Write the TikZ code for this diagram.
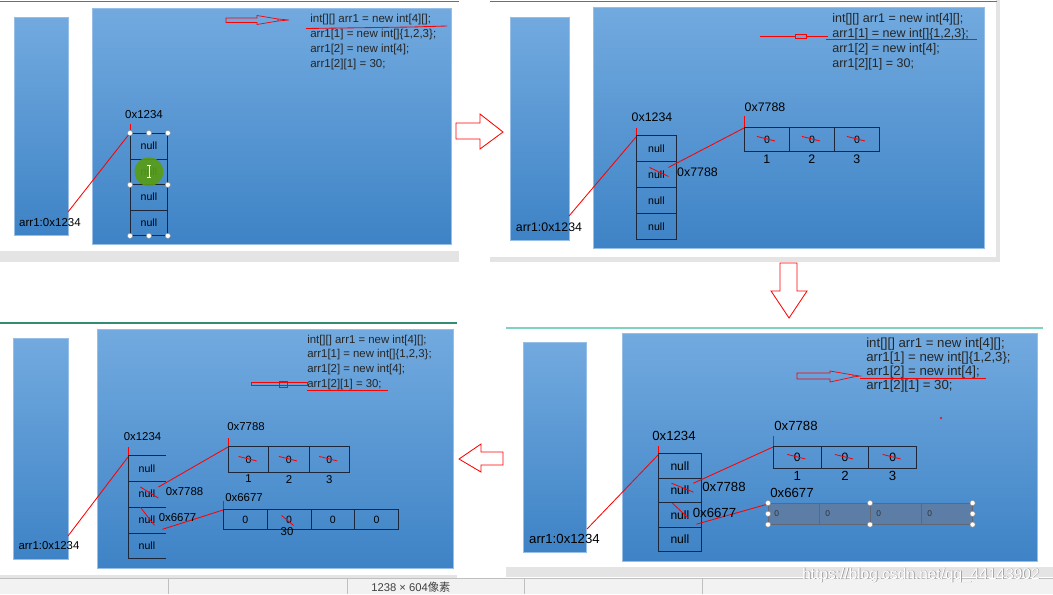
\documentclass[tikz,border=0pt]{standalone}
\usepackage{fontspec}
\setmainfont{Liberation Sans}
\newfontfamily\cjkfont{Noto Sans CJK SC}
\usetikzlibrary{positioning}

\definecolor{heaptop}{RGB}{114,170,223}
\definecolor{heapbot}{RGB}{62,131,198}
\definecolor{heapedge}{RGB}{150,190,230}
\definecolor{cellline}{RGB}{30,38,58}
\definecolor{tabgreen}{RGB}{52,140,112}
\definecolor{tabcyan}{RGB}{126,210,192}
\definecolor{selfill}{RGB}{92,126,166}
\definecolor{bargray}{RGB}{228,228,228}
\definecolor{hlgreen}{RGB}{88,156,18}

% the four lines of the snippet: name, x, first baseline, font size, line step
\newcommand\codelines[5]{%
  \node[code=#4] (#1a) at (#2,#3) {int[][] arr1 = new int[4][];};
  \node[code=#4] (#1b) at (#2,#3+#5) {arr1[1] = new int[]\{1,2,3\};};
  \node[code=#4] (#1c) at (#2,#3+2*#5) {arr1[2] = new int[4];};
  \node[code=#4] (#1d) at (#2,#3+3*#5) {arr1[2][1] = 30;};}

\begin{document}
\begin{tikzpicture}[x=0.25mm,y=-0.25mm,
  heap/.style={top color=heaptop,bottom color=heapbot,draw=heapedge,line width=0.4pt},
  lbl/.style={inner sep=0pt,font=\fontsize{#1}{#1}\selectfont},
  lbl/.default=8.2,
  code/.style={anchor=base west,inner sep=0pt,text=black!85,font=\fontsize{#1}{#1}\selectfont},
  cell/.style={draw=cellline,line width=0.6pt,inner sep=0pt,anchor=north west,font=\fontsize{7.5}{7.5}\selectfont},
  ptr/.style={red,line width=0.6pt},
  handle/.style={circle,draw=black!45,fill=white,inner sep=0pt,minimum size=1.3mm,line width=0.3pt}]
\useasboundingbox (0,0) rectangle (1053,594);
\clip (0,0) rectangle (1053,594);
\fill[white] (0,0) rectangle (1053,594);

% window frames and status bar
\fill[bargray] (0,251) rectangle (459,262);
\draw[tabgreen,line width=1.2pt] (0,1.5) -- (459,1.5);
\fill[bargray] (490,257) rectangle (1000,262);
\fill[bargray] (996,0) rectangle (1000,262);
\draw[tabgreen,line width=1.2pt] (490,1.5) -- (997,1.5);
\draw[tabgreen,line width=1.2pt] (0,323) -- (457,323);
\fill[bargray] (0,575) rectangle (457,578);
\draw[tabcyan,line width=0.8pt] (506,328) -- (1043,328);
\fill[bargray] (506,567) rectangle (1053,577);
\fill[black!5] (0,578) rectangle (1053,594);
\draw[black!25] (0,578) -- (1053,578);
\foreach \x in {168,347,524,702} \draw[black!25] (\x,579) -- (\x,594);
\node[lbl=8,anchor=west,text=black!75] (size) at (371,587) {1238 × 604{\cjkfont 像素}};

% stack and heap areas
\foreach \xa/\ya/\xb/\yb in {14/17/68/235, 92/8/451/244, 510/17/569/240, 593/7/984/248,
    13/338/68/559, 97/329/453/568, 523/342/586/552, 622/333/1037/561}
  \draw[heap] (\xa,\ya) rectangle (\xb,\yb);

% ---- step 1: int[][] arr1 = new int[4][];
\codelines{p1}{310}{22}{8.2}{15}
\draw[ptr,line width=0.5pt] (226,18) -- (257,18) -- (257,15.5) -- (278,19) -- (278,21) -- (257,24.5) -- (257,22.5) -- (226,22.5) -- cycle;
\draw[ptr,line width=0.5pt] (278,19) -- (289,20) -- (278,21);
\draw[ptr] (306,28.5) -- (412,27) -- (447,26);
\node[lbl] (p1addr) at (144,115) {0x1234};
\foreach \i in {1,...,4}
  \node[cell,minimum width=9.25mm,minimum height=6.375mm] (p1c\i) at (130,{133+25.5*(\i-1)}) {null};
\node[lbl] (p1var) at (50,223) {arr1:0x1234};
\coordinate (p1ref) at (68,212);
\draw[ptr] (p1ref) -- (p1c1.north west);
\draw[ptr] ([yshift=2.2mm]p1c1.north west) -- ([yshift=0.8mm]p1c1.north west);
\fill[hlgreen,opacity=0.9] (p1c2.center) circle[radius=3.6mm];
\draw[white,line width=0.6pt] ([yshift=1.5mm]p1c2.center) -- ([yshift=-1.5mm]p1c2.center)
  ([shift={(-0.5mm,1.5mm)}]p1c2.center) -- ([shift={(0.5mm,1.5mm)}]p1c2.center)
  ([shift={(-0.5mm,-1.5mm)}]p1c2.center) -- ([shift={(0.5mm,-1.5mm)}]p1c2.center);
\foreach \a [count=\k] in {p1c1.north west,p1c1.north,p1c1.north east,p1c2.south west,
    p1c2.south east,p1c4.south west,p1c4.south,p1c4.south east}
  \node[handle] (p1h\k) at (\a) {};

% ---- step 2: arr1[1] = new int[]{1,2,3};
\codelines{p2}{832}{22.5}{8.9}{15}
\draw[ptr] (760,36) -- (795,36) (806,36) -- (828,36);
\draw[ptr,line width=0.5pt] (795,34) rectangle (806,38);
\draw[ptr] (826,39) -- (977,39);
\node[lbl=8.8] (p2addr) at (652,117) {0x1234};
\foreach \i in {1,...,4}
  \node[cell,minimum width=10mm,minimum height=6.5mm] (p2c\i) at (636,{135+26*(\i-1)}) {null};
\node[lbl=8.8] (p2var) at (549,227) {arr1:0x1234};
\coordinate (p2ref) at (569,216);
\draw[ptr] (p2ref) -- ([yshift=-0.5mm]p2c1.north west);
\draw[ptr] ([yshift=1.75mm]p2c1.north west) -- (p2c1.north west);
\node[lbl=8.8] (p2addrA) at (765,107) {0x7788};
\foreach \i in {1,2,3} {
  \node[cell,minimum width=11.25mm,minimum height=6mm] (p2r\i) at ({744+45*(\i-1)},127) {0};
  \node[lbl=8.8,below=0.6mm of p2r\i] (p2n\i) {\i};
  \draw[ptr] ([shift={(-10,-3)}]p2r\i.center) -- ([shift={(8,1.5)}]p2r\i.center);
}
\draw[ptr] ([yshift=2.75mm]p2r1.north west) -- (p2r1.north west);
\draw[ptr] ([shift={(12,-7)}]p2c2.center) -- ([yshift=-0.25mm]p2r1.north west);
\draw[ptr] ([shift={(-7,-7)}]p2c2.center) -- ([shift={(12,2)}]p2c2.center);
\node[lbl=8.8] (p2ptrA) at (697.5,172) {0x7788};

% ---- step 3: arr1[2] = new int[4];
\codelines{p4}{866}{347.5}{9.4}{14}
\draw[ptr,line width=0.5pt] (797,373) -- (830,373) -- (830,371) -- (853,375) -- (853,377) -- (830,382) -- (830,379) -- (797,379) -- cycle;
\draw[ptr,line width=0.5pt] (853,375) -- (860,376) -- (853,377);
\draw[ptr] (860,378) -- (986,378);
\fill[red] (941,418) circle[radius=0.3mm];
\node[lbl=9.4] (p4addr) at (674,436) {0x1234};
\foreach \i in {1,...,4}
  \node[cell,minimum width=10.75mm,minimum height=6.125mm,font=\fontsize{8.6}{8.6}\selectfont] (p4c\i) at (658,{453+24.5*(\i-1)}) {null};
\node[lbl=9.4] (p4var) at (564.5,539) {arr1:0x1234};
\coordinate (p4ref) at (587,529);
\draw[ptr] (p4ref) -- ([yshift=-0.5mm]p4c1.north west);
\draw[ptr] ([yshift=1.75mm]p4c1.north west) -- (p4c1.north west);
\node[lbl=9.4] (p4addrA) at (796,426) {0x7788};
\foreach \i in {1,2,3} {
  \node[cell,minimum width=11.92mm,minimum height=5.5mm,font=\fontsize{8.6}{8.6}\selectfont] (p4r\i) at ({773+47.67*(\i-1)},446) {0};
  \node[lbl=9.4,below=0.5mm of p4r\i] (p4n\i) {\i};
  \draw[ptr] ([shift={(-10,-3)}]p4r\i.center) -- ([shift={(8,1.5)}]p4r\i.center);
}
\draw[ptr] ([yshift=2.5mm]p4r1.north west) -- (p4r1.north west);
\draw[ptr] ([shift={(13.5,-7)}]p4c2.center) -- ([yshift=-0.25mm]p4r1.north west);
\draw[ptr] ([shift={(-8.5,-7)}]p4c2.center) -- ([shift={(13.5,2)}]p4c2.center);
\node[lbl=9.4] (p4ptrA) at (724,487) {0x7788};
\node[lbl=9.4] (p4addrB) at (792,493) {0x6677};
\foreach \i in {1,...,4} {
  \node[cell,fill=selfill,draw=cellline!70,line width=0.4pt,minimum width=12.75mm,minimum height=5.25mm] (p4s\i) at ({768+51*(\i-1)},503) {};
  \node[lbl=6,right=1.5mm of p4s\i.west,text=black!80] (p4z\i) {0};
}
\draw[ptr] ([shift={(16.5,9.5)}]p4c3.center) -- ([yshift=-0.25mm]p4s1.north west);
\draw[ptr] ([shift={(-7.5,-11.5)}]p4c3.center) -- ([shift={(8.5,3.5)}]p4c3.center);
\node[lbl=9.4] (p4ptrB) at (714.5,513) {0x6677};
\foreach \a [count=\k] in {p4s1.north west,p4s1.west,p4s1.south west,p4s3.north west,
    p4s3.south west,p4s4.north east,p4s4.east,p4s4.south east}
  \node[handle] (p4h\k) at (\a) {};

% ---- step 4: arr1[2][1] = 30;
\codelines{p3}{307}{343}{8.1}{14.7}
\draw[ptr,line width=0.4pt] (251,382.5) rectangle (307,385.5);
\draw[ptr,line width=0.4pt] (279,381) rectangle (287,387);
\draw[ptr] (307,390) -- (388,390);
\node[lbl=8.1] (p3addr) at (142.5,437) {0x1234};
\foreach \i in {1,...,4}
  \node[cell,draw=none,minimum width=9.25mm,minimum height=6.44mm] (p3c\i) at (128,{455+25.75*(\i-1)}) {null};
\draw[cellline,line width=0.6pt] (p3c1.north east) -- (p3c1.north west) -- (p3c4.south west) -- (p3c4.south east);
\foreach \i in {1,2,3} \draw[cellline,line width=0.6pt] (p3c\i.south west) -- (p3c\i.south east);
\node[lbl=8.1] (p3var) at (49,546) {arr1:0x1234};
\coordinate (p3ref) at (68,536);
\draw[ptr] (p3ref) -- ([yshift=-0.5mm]p3c1.north west);
\draw[ptr] ([yshift=2mm]p3c1.north west) -- (p3c1.north west);
\node[lbl=8.1] (p3addrA) at (246,427) {0x7788};
\foreach \i in {1,2,3} {
  \node[cell,minimum width=10.08mm,minimum height=6.5mm] (p3r\i) at ({228+40.33*(\i-1)},446) {0};
  \node[lbl=8.1,below=0.5mm of p3r\i] (p3n\i) {\i};
  \draw[ptr] ([shift={(-10,-3)}]p3r\i.center) -- ([shift={(8,1.5)}]p3r\i.center);
}
\draw[ptr] ([yshift=2mm]p3r1.north west) -- (p3r1.north west);
\draw[ptr] ([shift={(11.5,-7)}]p3c2.center) -- ([yshift=-0.25mm]p3r1.north west);
\draw[ptr] ([shift={(-6.5,-7)}]p3c2.center) -- ([shift={(11.5,4)}]p3c2.center);
\node[lbl=8.1] (p3ptrA) at (184.5,492) {0x7788};
\node[lbl=8.1] (p3addrB) at (244,498) {0x6677};
\foreach \i in {1,...,4}
  \node[cell,minimum width=10.94mm,minimum height=5mm] (p3s\i) at ({223+43.75*(\i-1)},509) {0};
\draw[ptr] ([yshift=2mm]p3s1.north west) -- (p3s1.north west);
\draw[ptr] ([shift={(15.5,9.5)}]p3c3.center) -- ([yshift=-0.25mm]p3s1.north west);
\draw[ptr] ([shift={(-6.5,-12.5)}]p3c3.center) -- ([shift={(7.5,5.5)}]p3c3.center);
\node[lbl=8.1] (p3ptrB) at (177.5,518) {0x6677};
\draw[ptr] ([shift={(-7.5,-4)}]p3s2.center) -- ([shift={(4.5,6)}]p3s2.center);
\node[lbl=8.1] (p3val) at (287,532) {30};

% hollow arrows between the steps
\draw[ptr] (456,123) -- (480,123) -- (480,114) -- (503,132) -- (480,149) -- (480,139) -- (456,139) -- cycle;
\draw[ptr] (780,263) -- (797,263) -- (797,291) -- (807,291) -- (789,318) -- (771,291) -- (780,291) -- cycle;
\draw[ptr] (503,452) -- (481,452) -- (481,444) -- (459,459) -- (481,472) -- (481,465) -- (503,465) -- cycle;

% watermark
\node[text=black!45,font=\fontsize{11}{11}\selectfont] (wmshade) at (921.7,575.7) {https://blog.csdn.net/qq\_44143902};
\node[text=white,font=\fontsize{11}{11}\selectfont] (wm) at (921,575) {https://blog.csdn.net/qq\_44143902};
\end{tikzpicture}
\end{document}
